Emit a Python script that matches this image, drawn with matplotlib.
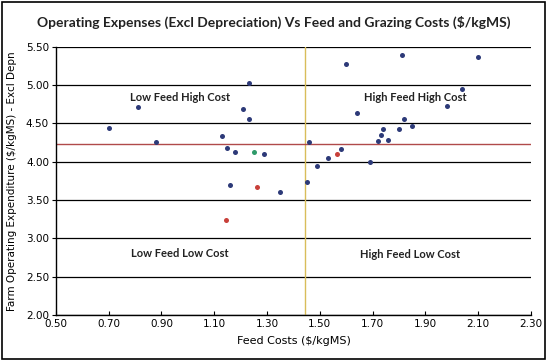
import matplotlib.pyplot as plt
from matplotlib.patches import Rectangle

# Feed costs ($/kgMS) vs operating expenditure ($/kgMS)
blue_x = [0.70, 0.81, 0.88, 1.23, 1.21, 1.23, 1.13, 1.15, 1.18, 1.29, 1.16, 1.35,
          1.46, 1.45, 1.81, 2.10, 1.60, 2.04, 1.98, 1.64, 1.82, 1.85, 1.74, 1.80,
          1.73, 1.72, 1.76, 1.58, 1.53, 1.49, 1.69]
blue_y = [4.44, 4.71, 4.25, 5.02, 4.69, 4.55, 4.34, 4.18, 4.12, 4.10, 3.70, 3.60,
          4.26, 3.73, 5.39, 5.36, 5.27, 4.95, 4.72, 4.63, 4.56, 4.46, 4.43, 4.42,
          4.35, 4.27, 4.28, 4.16, 4.05, 3.94, 4.00]
red_x = [1.565, 1.26, 1.145]
red_y = [4.10, 3.67, 3.24]
green_x = [1.25]
green_y = [4.13]

avg_feed = 1.445
avg_opex = 4.23

quadrants = ["Low Feed High Cost", "High Feed High Cost", "Low Feed Low Cost", "High Feed Low Cost"]
quad_x = [0.97, 1.86, 0.97, 1.84]
quad_y = [4.83, 4.83, 2.80, 2.79]

fig = plt.figure(figsize=(5.48, 3.61), dpi=100)
ax = fig.add_axes([0.102, 0.127, 0.867, 0.744])

ax.set_xlim(0.5, 2.3)
ax.set_ylim(2.0, 5.5)
ax.set_xticks([0.5 + 0.2 * i for i in range(10)])
ax.set_yticks([2.0 + 0.5 * i for i in range(8)])
ax.xaxis.set_major_formatter(plt.FormatStrFormatter('%.2f'))
ax.yaxis.set_major_formatter(plt.FormatStrFormatter('%.2f'))
ax.tick_params(axis='x', direction='in', length=3, labelsize=7.5, pad=3)
ax.tick_params(axis='y', direction='out', length=3, labelsize=7.5, pad=2)

ax.grid(axis='y', color='black', linewidth=0.9)
ax.set_axisbelow(True)
for s in ['top', 'right']:
    ax.spines[s].set_visible(False)
for s in ['left', 'bottom']:
    ax.spines[s].set_linewidth(1.0)

ax.axvline(avg_feed, color='#d9bd5a', linewidth=1.0, zorder=2)
ax.axhline(avg_opex, color='#b04a4a', linewidth=1.0, zorder=2)

ax.scatter(blue_x, blue_y, s=13, color='#2d3a78', zorder=3, linewidths=0)
ax.scatter(red_x, red_y, s=13, color='#c8403a', zorder=3, linewidths=0)
ax.scatter(green_x, green_y, s=13, color='#2f9a6a', zorder=3, linewidths=0)

for label, qx, qy in zip(quadrants, quad_x, quad_y):
    ax.text(qx, qy, label, ha='center', va='center', fontsize=8,
            fontweight='bold', family='Lato', color='#222222', zorder=4)

ax.set_xlabel('Feed Costs ($/kgMS)', fontsize=8, labelpad=5)
ax.set_ylabel('Farm Operating Expenditure ($/kgMS) - Excl Depn', fontsize=7.5, labelpad=6)

fig.suptitle('Operating Expenses (Excl Depreciation) Vs Feed and Grazing Costs ($/kgMS)',
             x=0.5, y=0.955, fontsize=10, fontweight='bold', family='Lato', color='#222222')

fig.patches.append(Rectangle((0.004, 0.006), 0.99, 0.988, transform=fig.transFigure,
                             fill=False, edgecolor='black', linewidth=1.2))

fig.savefig('out.png', dpi=100)
